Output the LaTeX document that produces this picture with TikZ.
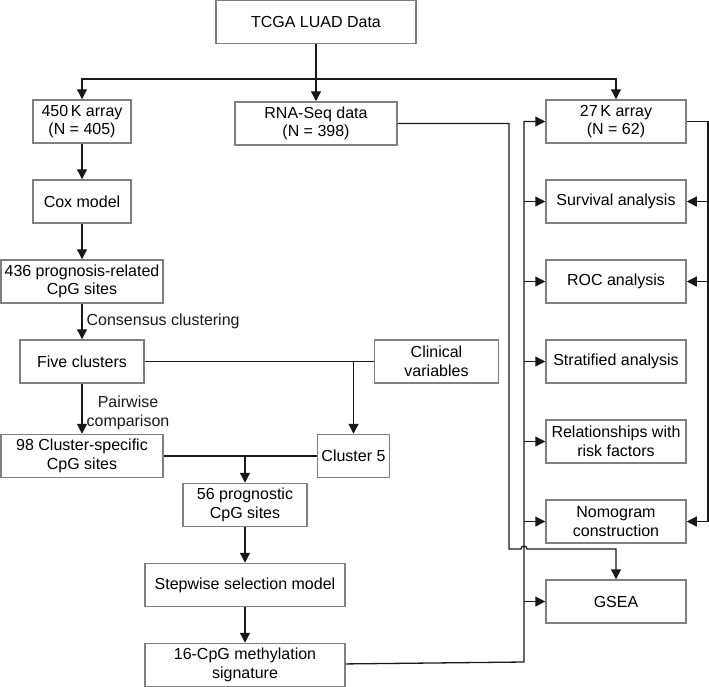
\documentclass[tikz,border=0pt]{standalone}
\usepackage{fontspec}
\setmainfont{Liberation Sans}
\usetikzlibrary{arrows.meta,positioning}
\definecolor{boxgray}{RGB}{128,128,128}

\begin{document}
\begin{tikzpicture}[
    x=1pt,y=1pt,
    node distance=35.5pt and 40pt,
    box/.style={rectangle,draw=boxgray,line width=1.5pt,minimum height=43pt,inner sep=2pt,align=center,font=\fontsize{16}{18.5}\selectfont},
    note/.style={font=\fontsize{16}{18.5}\selectfont,align=center,inner sep=2pt},
    link/.style={line width=1.3pt,black!90},
    >={Triangle[length=10pt,width=10pt]}
  ]
  \useasboundingbox (0,0) rectangle (709,-686);

  %% Source data
  \node[box,minimum width=200pt] (tcga) at (316,-22) {TCGA LUAD Data};
  \node[box,minimum width=162pt,below=57pt of tcga] (rnaseq) {RNA-Seq data\\(N = 398)};
  \node[box,minimum width=98pt] (a450) at (82,-121.5) {450\,K array\\(N = 405)};
  \node[box,minimum width=140pt] (a27) at (616,-121.5) {27\,K array\\(N = 62)};

  %% Discovery (450K) column
  \node[box,minimum width=98pt,below=of a450] (cox) {Cox model};
  \node[box,minimum width=162pt,below=of cox] (cpg436) {436 prognosis-related\\CpG sites};
  \node[box,minimum width=124pt,below=of cpg436] (five) {Five clusters};
  \node[box,minimum width=162pt,below=50pt of five] (cpg98) {98 Cluster-specific\\CpG sites};
  \node[box,minimum width=124pt,right=229pt of five] (clin) {Clinical\\variables};
  \node[box,minimum width=72pt,right=153pt of cpg98] (cl5) {Cluster 5};

  %% Signature building
  \node[box,minimum width=124pt] (cpg56) at (245,-505) {56 prognostic\\CpG sites};
  \node[box,minimum width=200pt,below=of cpg56] (stepw) {Stepwise selection model};
  \node[box,minimum width=200pt,below=of stepw] (sig) {16-CpG methylation\\signature};

  %% Validation column
  \node[box,minimum width=140pt,below=of a27] (surv) {Survival analysis};
  \node[box,minimum width=140pt,below=of surv] (roc) {ROC analysis};
  \node[box,minimum width=140pt,below=of roc] (strat) {Stratified analysis};
  \node[box,minimum width=140pt,below=of strat] (rel) {Relationships with\\risk factors};
  \node[box,minimum width=140pt,below=of rel] (nomo) {Nomogram\\construction};
  \node[box,minimum width=140pt,below=of nomo] (gsea) {GSEA};

  %% Top split
  \coordinate (split) at (316,-79);
  \draw[link,->] (tcga) -- (rnaseq);
  \draw[link,->] (split) -| (a450);
  \draw[link,->] (split) -| (a27);

  %% Left chain
  \draw[link,->] (a450) -- (cox);
  \draw[link,->] (cox) -- (cpg436);
  \draw[link,->] (cpg436) -- node[note,right=2pt] {Consensus clustering} (five);
  \draw[link,->] (five) -- node[note,right=2pt,pos=0.58] {Pairwise\\comparison} (cpg98);

  \coordinate (j1) at (cl5.north |- five.east);
  \draw[link] (five) -- (clin);
  \draw[link,->] (j1) -- (cl5);
  \coordinate (j2) at (cpg56.north |- cl5.west);
  \draw[link] (cpg98) -- (cl5);
  \draw[link,->] (j2) -- (cpg56);
  \draw[link,->] (cpg56) -- (stepw);
  \draw[link,->] (stepw) -- (sig);

  %% Signature feeds the validation boxes
  \coordinate (lbus) at (524,-662);
  \draw[link,->] (sig) -- (lbus) |- (a27);
  \foreach \n in {surv,roc,strat,rel,nomo,gsea}
    \draw[link,->] (lbus |- \n.west) -- (\n);

  %% 27K data bus on the right
  \coordinate (rbus) at (708,-121.5);
  \draw[link,->] (a27) -- (rbus) |- (nomo);
  \foreach \n in {surv,roc}
    \draw[link,->] (rbus |- \n.east) -- (\n);

  %% RNA-Seq to GSEA, hopping over the bus
  \coordinate (rdown) at (509,-549);
  \draw[link,->] (rnaseq) -- (rnaseq.east -| rdown) -- (rdown) -- ++(12,0) arc (180:0:3) -- (rdown -| gsea.north) -- (gsea);
\end{tikzpicture}
\end{document}
